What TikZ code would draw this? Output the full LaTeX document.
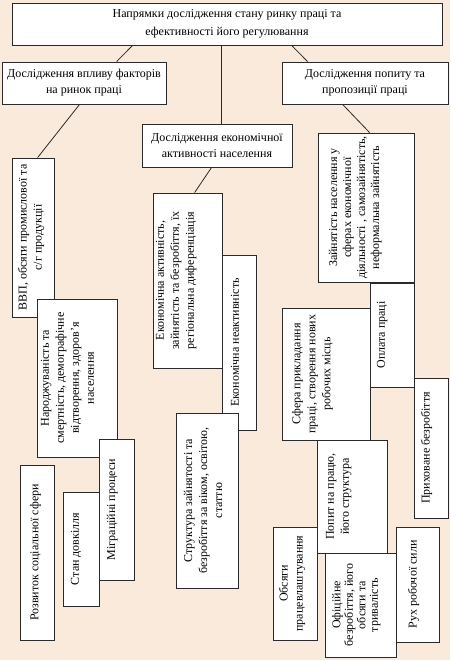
\documentclass[tikz,border=0pt]{standalone}
\usepackage{fontspec}
\setmainfont{Liberation Serif}
\definecolor{bgpeach}{HTML}{F9EADB}
\definecolor{edge}{HTML}{2A2A2A}
\newcommand\vt[5][15]{\parbox[c][#3pt][t]{#2pt}{\fontsize{12}{#1}\selectfont\parindent=0pt\centering\vspace*{#4pt}#5\par}}
\begin{document}
\begin{tikzpicture}[x=1pt,y=-1pt,
  box/.style={draw=edge, fill=white, line width=0.8pt, inner sep=0pt},
  hbox/.style={box, align=center, font=\fontsize{12}{16}\selectfont},
  rbox/.style={box, rotate=90},
  conn/.style={draw=edge, line width=0.8pt}]
\fill[bgpeach] (0,0) rectangle (450,660);
\useasboundingbox (0,0) rectangle (450,660);
% level 1 and 2
\node[hbox, minimum width=430pt, minimum height=42pt, font=\fontsize{12}{18}\selectfont] (top) at (227,24)
  {Напрямки дослідження стану ринку праці та\\ефективності його регулювання};
\node[hbox, minimum width=164pt, minimum height=42pt] (L1) at (84,83)
  {Дослідження впливу факторів\\на ринок праці};
\node[hbox, minimum width=166pt, minimum height=42pt] (R1) at (365,83)
  {Дослідження попиту та\\пропозиції праці};
\node[hbox, minimum width=150pt, minimum height=43pt] (M1) at (217,145.5)
  {Дослідження економічної\\активності населення};
% left column
\node[rbox] (vvp) at (33,237.5) {\vt{159}{42}{6}{ВВП, обсяги промислової та\\с/г продукції}};
\node[rbox] (nar) at (77,378) {\vt{158}{80}{4}{Народжуваність та\\смертність, демографічне\\відтворення, здоров’я\\населення}};
\node[rbox] (mig) at (116.5,509.5) {\vt{141}{35}{8}{Міграційні процеси}};
\node[rbox] (stan) at (81,549) {\vt{114}{36}{8}{Стан довкілля}};
\node[rbox] (rozv) at (37,552.5) {\vt{175}{34}{10}{Розвиток соціальної сфери}};
% middle column
\node[rbox] (eka) at (187.5,280.5) {\vt{175}{69}{3}{Економічна активність,\\зайнятість та безробіття, їх\\регіональна диференціація}};
\node[rbox] (ekn) at (239,342.5) {\vt{175}{34}{9}{Економічна неактивність}};
\node[rbox] (str) at (207,500.5) {\vt{175}{62}{8}{Структура зайнятості та\\безробіття за віком, освітою,\\статтю}};
% right column
\node[rbox] (zayn) at (366,207.5) {\vt[14]{149}{96}{11}{Зайнятість населення у\\сферах економічної\\діяльності , самозайнятість,\\неформальна зайнятість}};
\node[rbox] (opl) at (392,335) {\vt{104}{44}{7}{Оплата праці}};
\node[rbox] (sfer) at (326,374) {\vt{132}{88}{10}{Сфера прикладання\\праці, створення нових\\робочих місць}};
\node[rbox] (prykh) at (431,448) {\vt{140}{34}{7}{Приховане безробіття}};
\node[rbox] (popyt) at (352,496.5) {\vt{113}{70}{9}{Попит на працю,\\його структура}};
\node[rbox] (obs) at (295,583.5) {\vt{113}{44}{6}{Обсяги\\працевлаштування}};
\node[rbox] (ofic) at (360.5,605) {\vt[12.5]{104}{71}{7}{Офіційне\\безробіття, його\\обсяги та\\тривалість}};
\node[rbox] (rukh) at (417.5,584.5) {\vt{115}{43}{12}{Рух робочої сили}};
% connectors
\draw[conn] ([xshift=121pt]top.south west) -- ([xshift=115pt]L1.north west);
\draw[conn] ([xshift=210pt]top.south west) -- ([xshift=80pt]M1.north west);
\draw[conn] ([xshift=280pt]top.south west) -- ([xshift=26pt]R1.north west);
\draw[conn] ([xshift=78pt]L1.south west) -- ([xshift=26pt]vvp.north east);
\draw[conn] ([xshift=61pt]R1.south west) -- ([xshift=52pt]zayn.north east);
\draw[conn] ([xshift=70pt]M1.south west) -- ([xshift=42pt]eka.north east);
\end{tikzpicture}
\end{document}
